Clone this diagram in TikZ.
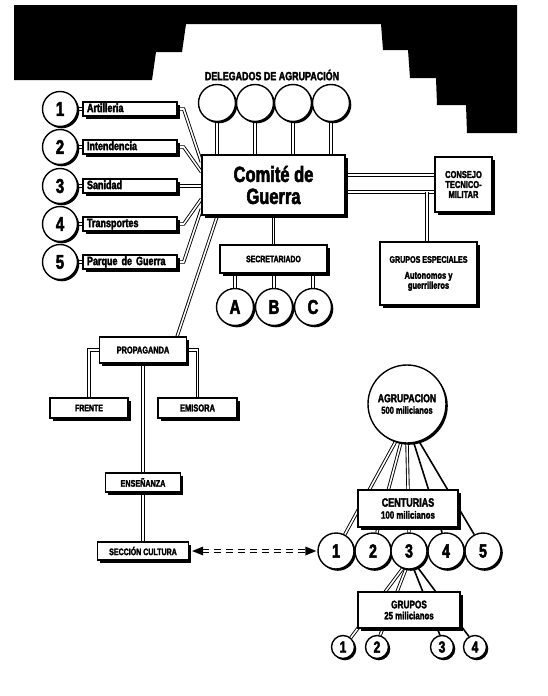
\documentclass[tikz,border=0pt]{standalone}
\usepackage{fontspec}
\newfontfamily\cond[FakeStretch=0.75,FakeBold=2.5]{Liberation Sans}
\usetikzlibrary{shadows,calc,arrows.meta,backgrounds}
\begin{document}
\begin{tikzpicture}[x=1pt,y=-1pt,
  fsz/.style={font=\cond\bfseries\fontsize{#1}{#1}\selectfont},
  box/.style={draw,line width=1.3pt,fill=white,inner sep=0pt,align=center,
    drop shadow={shadow xshift=2.5pt,shadow yshift=-2.5pt,fill=black,opacity=1}},
  circ/.style={draw,circle,line width=1.4pt,fill=white,inner sep=0pt,
    drop shadow={shadow xshift=1.8pt,shadow yshift=-1.8pt,fill=black,opacity=1}},
  dbl/.style={line width=0.9pt,double,double distance=1.6pt},
  thk/.style={line width=1.6pt},
  lbox/.style={box,fsz=12,minimum height=14pt,text width=86pt,align=left,inner xsep=4pt,
    text height=8.6pt,text depth=2.4pt},
  num/.style={circ,fsz=20,minimum size=35pt},
  dsh/.style={line width=0.9pt,dash pattern=on 7pt off 5pt},
  tip/.style={fill=black},
]
\useasboundingbox (0,0) rectangle (547,696);
% top black banner
\fill[black] (14,5) -- (517,5) -- (517,133) -- (467,133) -- (466,105) -- (437,105)
  -- (436,78) -- (410,78) -- (408,50) -- (383,50) -- (381,24) -- (186,24)
  -- (182,52) -- (156,52) -- (152,80) -- (14,80) -- cycle;
\node[fsz=11.9] (dl) at (272,75) {DELEGADOS DE AGRUPACIÓN};
% delegates
\foreach \i/\x in {1/217,2/255,3/293,4/331}
  \node[circ,minimum size=37pt] (d\i) at (\x,103) {};
% Comite
\node[box,fsz=22,minimum width=143pt,minimum height=60pt] (cg) at (273.5,185)
  {\fontsize{22}{20}\selectfont Comité de\\Guerra};
% left column
\node[num] (n1) at (60,109) {1};
\node[num] (n2) at (60,147) {2};
\node[num] (n3) at (60,186) {3};
\node[num] (n4) at (60,224) {4};
\node[num] (n5) at (60,262) {5};
\node[lbox] (b1) at (130,109) {Artilleria};
\node[lbox] (b2) at (130,147) {Intendencia};
\node[lbox] (b3) at (130,186) {Sanidad};
\node[lbox] (b4) at (130,224) {Transportes};
\node[lbox] (b5) at (130,262) {Parque de Guerra};
% right
\node[box,fsz=10,minimum width=57pt,minimum height=55pt] (cs) at (463.5,184.5)
  {\fontsize{10}{12}\selectfont CONSEJO\\TECNICO-\\MILITAR};
\node[box,fsz=10,minimum width=97pt,minimum height=63pt] (ge) at (428.5,273.5)
  {\fontsize{9.5}{14}\selectfont GRUPOS ESPECIALES\\[6pt]Autonomos y\\guerrilleros};
% secretariado
\node[box,fsz=9.2,minimum width=107pt,minimum height=28pt] (se) at (273.5,259) {SECRETARIADO};
\node[circ,fsz=20,minimum size=37pt] (ca) at (235,307) {A};
\node[circ,fsz=20,minimum size=37pt] (cb) at (274,307) {B};
\node[circ,fsz=20,minimum size=37pt] (cc) at (313,307) {C};
% propaganda branch
\node[box,fsz=9.8,minimum width=87pt,minimum height=26pt] (pr) at (143,350) {PROPAGANDA};
\node[box,fsz=9.3,minimum width=78pt,minimum height=20pt] (fr) at (89,408) {FRENTE};
\node[box,fsz=10,minimum width=79pt,minimum height=20pt] (em) at (197.5,408) {EMISORA};
\node[box,fsz=9.6,minimum width=75pt,minimum height=19pt] (en) at (143,482.5) {ENSEÑANZA};
\node[box,fsz=9.4,minimum width=91pt,minimum height=18pt] (sc) at (143,551) {SECCIÓN CULTURA};
% agrupacion
\node[circ,minimum size=78pt,align=center,fsz=11.5] (ag) at (407,404)
  {\fontsize{11.5}{16}\selectfont AGRUPACION\\\fontsize{10}{12}\selectfont 500 milicianos};
\node[box,minimum width=100pt,minimum height=37pt,fsz=12] (ce) at (408,508.5)
  {\fontsize{12}{15}\selectfont CENTURIAS\\\fontsize{10.5}{12}\selectfont 100 milicianos};
\foreach \i/\x in {1/336,2/373,3/409,4/446,5/483}
  \node[circ,fsz=19,minimum size=36pt] (k\i) at (\x,551) {\i};
\node[box,minimum width=102pt,minimum height=36pt,fsz=11] (gr) at (409,610)
  {\fontsize{11}{14}\selectfont GRUPOS\\\fontsize{10.5}{12}\selectfont 25 milicianos};
\foreach \i/\x in {1/343,2/377,3/442,4/475}
  \node[circ,fsz=16,minimum size=23pt] (s\i) at (\x,647) {\i};
% connectors
\begin{scope}[on background layer]
  \fill[white] (0,0) rectangle (547,696);
  \foreach \i in {1,...,4} \draw[dbl] (d\i.south) -- (d\i.south |- cg.north);
  \foreach \i in {1,...,5} \draw[dbl] (n\i.east) -- (b\i.west);
  \draw[dbl] (b1.east) -- ++(6,0) -- (cg.west |- 0,162);
  \draw[dbl] (b2.east) -- ++(6,0) -- (cg.west |- 0,172);
  \draw[dbl] (b3.east) -- (cg.west |- 0,186);
  \draw[dbl] (b4.east) -- ++(6,0) -- (cg.west |- 0,199);
  \draw[dbl] (b5.east) -- ++(6,0) -- (cg.west |- 0,209);
  \draw[dbl] (cg.east |- 0,175) -- (cs.west |- 0,175);
  \draw[dbl] (cg.east |- 0,192) -- (cs.west |- 0,192);
  \draw[dbl] (427,192) -- (ge.north -| 427,0);
  \draw[dbl] (cg.south) -- (se.north);
  \foreach \c in {ca,cb,cc} \draw[dbl] (\c.north |- se.south) -- (\c.north);
  \draw[dbl] ($(cg.south west)+(16,0)$) -- ($(pr.north east)+(-10,0)$);
  \draw[dbl] (pr.west) -| (fr.north);
  \draw[dbl] (pr.east) -| (em.north);
  \draw[dbl] (pr.south) -- (en.north);
  \draw[dbl] (en.south) -- (sc.north);
  \draw[dbl] (ag.253) -- (k1.62);
  \draw[dbl] (ag.261) -- (k2.78);
  \draw[dbl] (ag.270) -- (k3.north);
  \draw[thk] (ag.280) -- (k4.102);
  \draw[thk] (ag.288) -- (k5.118);
  \draw[dbl] (k3.250) -- (s1.50);
  \draw[dbl] (k3.260) -- (s2.75);
  \draw[thk] (k3.285) -- (s3.100);
  \draw[thk] (k3.298) -- (s4.120);
\end{scope}
% dashed double arrow between SECCION CULTURA and circle 1
\coordinate (aL) at ($(sc.east)+(3,0)$);
\coordinate (aR) at ($(k1.west)+(-1,0)$);
\draw[dsh] ($(aL)+(10,-1.4)$) -- ($(aR)+(-10,-1.4)$);
\draw[dsh] ($(aL)+(10,1.4)$) -- ($(aR)+(-10,1.4)$);
\fill[tip] (aL) -- ++(11,-4.5) -- ++(0,9) -- cycle;
\fill[tip] (aR) -- ++(-11,-4.5) -- ++(0,9) -- cycle;
\end{tikzpicture}
\end{document}
